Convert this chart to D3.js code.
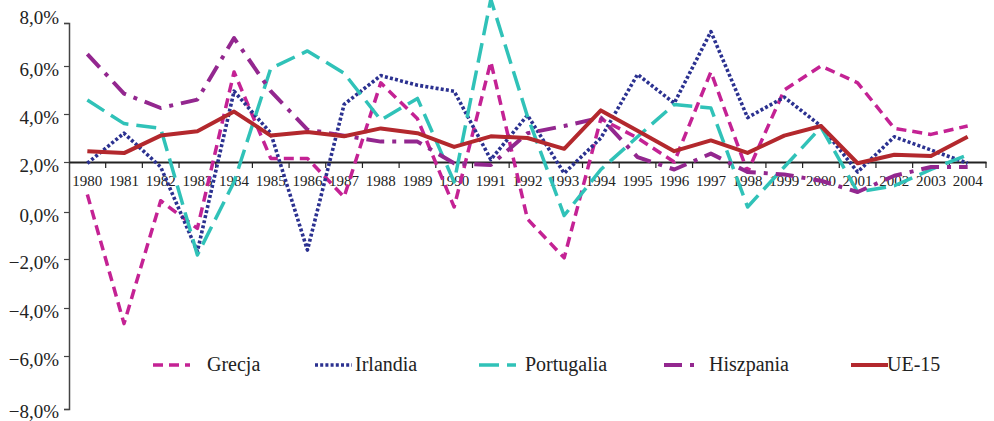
<!DOCTYPE html>
<html><head><meta charset="utf-8">
<script src="https://cdn.jsdelivr.net/npm/d3@7"></script>
<style>
html,body{margin:0;padding:0;background:#fff;}
svg{display:block;}
svg text{font-family:"Liberation Serif","DejaVu Serif","Times New Roman",serif !important;}
</style></head>
<body>
<svg id="chart" width="994" height="421"></svg>
<script>
const years = ["1980","1981","1982","1983","1984","1985","1986","1987","1988","1989","1990","1991","1992","1993","1994","1995","1996","1997","1998","1999","2000","2001","2002","2003","2004"];
const grecja     = [0.7,-4.65,0.45,-0.7,5.75,2.15,2.15,0.6,5.3,3.8,0.2,6.2,-0.3,-1.95,3.8,3.0,2.0,5.75,1.6,5.0,6.0,5.3,3.4,3.15,3.5];
const irlandia   = [1.95,3.2,1.8,-1.68,4.95,3.2,-1.62,4.4,5.6,5.2,4.95,2.1,3.95,1.55,3.0,5.65,4.45,7.6,3.85,4.7,3.5,1.6,3.05,2.5,1.95];
const portugalia = [4.58,3.6,3.4,-1.83,1.2,5.9,6.7,5.7,3.75,4.65,1.2,9.1,3.9,-0.15,1.7,3.05,4.4,4.25,0.2,1.8,3.45,0.8,1.05,1.7,2.3];
const hiszpania  = [6.55,4.85,4.25,4.6,7.3,4.95,3.35,3.1,2.85,2.85,1.95,1.88,3.2,3.5,3.85,2.2,1.7,2.35,1.6,1.5,1.25,0.8,1.45,1.8,1.8];
const ue15       = [2.45,2.37,3.1,3.28,4.1,3.1,3.25,3.07,3.4,3.2,2.63,3.07,3.0,2.55,4.15,3.3,2.45,2.9,2.38,3.1,3.5,1.95,2.3,2.25,3.05];
const yTicks = [-8,-6,-4,-2,0,2,4,6,8];
const seriesNames = ["Grecja","Irlandia","Portugalia","Hiszpania","UE-15"];

const series = [
  {name:seriesNames[0], values:grecja,     color:"#c42294", width:3.5, dash:"10,6"},
  {name:seriesNames[1], values:irlandia,   color:"#2b3190", width:3.6, dash:"3,2.2"},
  {name:seriesNames[2], values:portugalia, color:"#30c2b8", width:3.5, dash:"20,8"},
  {name:seriesNames[3], values:hiszpania,  color:"#93278f", width:4,   dash:"18,8,4,8"},
  {name:seriesNames[4], values:ue15,       color:"#b3282d", width:4,   dash:null}
];

const svg = d3.select("#chart");
const x = d3.scaleBand().domain(years).range([69, 986]).padding(0);
const y = d3.scaleLinear().domain(yTicks).range([409,356,308,259,212,162,114,66,23]);

// Y axis
const yAxis = svg.append("g").attr("transform","translate(69,0)")
  .call(d3.axisLeft(y).tickValues(yTicks).tickSize(5).tickPadding(5)
    .tickFormat(d => (d<0?"\u2212":"") + Math.abs(d).toFixed(1).replace(".",",") + "%"));
yAxis.select(".domain").attr("stroke","#444").attr("stroke-width",1.5);
yAxis.selectAll(".tick line").attr("stroke","#444").attr("stroke-width",1.2);
yAxis.selectAll(".tick text").attr("font-size",19).attr("fill","#222")
  .attr("dy", d => d===8 ? "0.05em" : (d===-8 ? "0.45em" : "0.5em"));

// X axis at 2%
const y0 = y(2);
const xAxis = svg.append("g").attr("transform",`translate(0,${y0})`)
  .call(d3.axisBottom(x).tickSize(0).tickPadding(13));
xAxis.select(".domain").attr("stroke","#222").attr("stroke-width",2);
xAxis.selectAll(".tick text").attr("font-size",15).attr("fill","#222");
const bounds = years.map(d => x(d)).concat([x.range()[1]]).slice(1);
svg.append("g").selectAll("line").data(bounds).join("line")
  .attr("x1",d=>d).attr("x2",d=>d).attr("y1",y0).attr("y2",y0+6)
  .attr("stroke","#222").attr("stroke-width",1.2);

// Lines
const line = d3.line().x((d,i)=>x(years[i])+x.bandwidth()/2).y(d=>y(d));
svg.append("g").selectAll("path").data(series).join("path")
  .attr("d", d=>line(d.values))
  .attr("fill","none")
  .attr("stroke", d=>d.color)
  .attr("stroke-width", d=>d.width)
  .attr("stroke-dasharray", d=>d.dash)
  .attr("stroke-linejoin","round");

// Legend
const legX = [153, 315, 479, 664, 851];
const legTextOff = [54, 40, 46, 45, 36];
const legY = 365;
const leg = svg.append("g").selectAll("g").data(series).join("g")
  .attr("transform",(d,i)=>`translate(${legX[i]},${legY})`);
leg.append("line").attr("x1",0).attr("x2",37).attr("y1",0).attr("y2",0)
  .attr("stroke",d=>d.color).attr("stroke-width",d=>d.width)
  .attr("stroke-dasharray",d=>d.dash);
leg.append("text").attr("x",(d,i)=>legTextOff[i]).attr("y",0).attr("dy","0.32em")
  .attr("font-size",20).attr("fill","#222").text(d=>d.name);
</script>
</body></html>
